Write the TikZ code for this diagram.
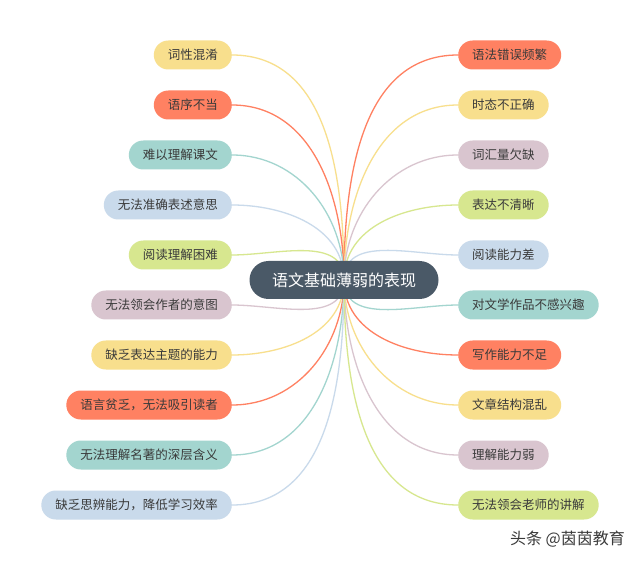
\documentclass[tikz,border=0pt]{standalone}
\usepackage{fontspec}
\setmainfont{Noto Sans CJK SC}
\definecolor{cyel}{HTML}{F8DF8D}
\definecolor{ccor}{HTML}{FF8162}
\definecolor{cteal}{HTML}{A3D5CF}
\definecolor{cblue}{HTML}{C9DAEB}
\definecolor{cgrn}{HTML}{D7E78F}
\definecolor{cmauv}{HTML}{D9C5CF}
\definecolor{cdark}{HTML}{4A5967}
\definecolor{ctext}{HTML}{3A3A3A}
\begin{document}
\begin{tikzpicture}[x=1pt,y=1pt,
  leaf/.style={fill=#1, rounded corners=14.5pt, minimum height=29pt, inner xsep=14pt, inner ysep=0pt, text=ctext, font=\fontsize{12.5}{14}\selectfont},
  lnk/.style={draw=#1, line width=1.3pt}]
\useasboundingbox[fill=white] (0,0) rectangle (640,-561);
\coordinate (C) at (344,-280);
% left nodes
\node[leaf=cyel, anchor=east] (L1) at (232,-55) {词性混淆};
\node[leaf=ccor, anchor=east] (L2) at (232,-105) {语序不当};
\node[leaf=cteal, anchor=east] (L3) at (232,-155) {难以理解课文};
\node[leaf=cblue, anchor=east] (L4) at (232,-205) {无法准确表述意思};
\node[leaf=cgrn, anchor=east] (L5) at (232,-255) {阅读理解困难};
\node[leaf=cmauv, anchor=east] (L6) at (232,-305) {无法领会作者的意图};
\node[leaf=cyel, anchor=east] (L7) at (232,-355) {缺乏表达主题的能力};
\node[leaf=ccor, anchor=east] (L8) at (232,-405) {语言贫乏，无法吸引读者};
\node[leaf=cteal, anchor=east] (L9) at (232,-455) {无法理解名著的深层含义};
\node[leaf=cblue, anchor=east] (L10) at (232,-505) {缺乏思辨能力，降低学习效率};
% right nodes
\node[leaf=ccor, anchor=west] (R1) at (458,-55) {语法错误频繁};
\node[leaf=cyel, anchor=west] (R2) at (458,-105) {时态不正确};
\node[leaf=cmauv, anchor=west] (R3) at (458,-155) {词汇量欠缺};
\node[leaf=cgrn, anchor=west] (R4) at (458,-205) {表达不清晰};
\node[leaf=cblue, anchor=west] (R5) at (458,-255) {阅读能力差};
\node[leaf=cteal, anchor=west] (R6) at (458,-305) {对文学作品不感兴趣};
\node[leaf=ccor, anchor=west] (R7) at (458,-355) {写作能力不足};
\node[leaf=cyel, anchor=west] (R8) at (458,-405) {文章结构混乱};
\node[leaf=cmauv, anchor=west] (R9) at (458,-455) {理解能力弱};
\node[leaf=cgrn, anchor=west] (R10) at (458,-505) {无法领会老师的讲解};
% connectors
\draw[lnk=cyel] (C) to[out=90,in=0] (L1.east);
\draw[lnk=ccor] (C) to[out=90,in=0] (L2.east);
\draw[lnk=cteal] (C) to[out=90,in=0] (L3.east);
\draw[lnk=cblue] (C) to[out=90,in=0] (L4.east);
\draw[lnk=cgrn] (C) to[out=90,in=0] (L5.east);
\draw[lnk=cmauv] (C) to[out=270,in=0] (L6.east);
\draw[lnk=cyel] (C) to[out=270,in=0] (L7.east);
\draw[lnk=ccor] (C) to[out=270,in=0] (L8.east);
\draw[lnk=cteal] (C) to[out=270,in=0] (L9.east);
\draw[lnk=cblue] (C) to[out=270,in=0] (L10.east);
\draw[lnk=ccor] (C) to[out=90,in=180] (R1.west);
\draw[lnk=cyel] (C) to[out=90,in=180] (R2.west);
\draw[lnk=cmauv] (C) to[out=90,in=180] (R3.west);
\draw[lnk=cgrn] (C) to[out=90,in=180] (R4.west);
\draw[lnk=cblue] (C) to[out=90,in=180] (R5.west);
\draw[lnk=cteal] (C) to[out=270,in=180] (R6.west);
\draw[lnk=ccor] (C) to[out=270,in=180] (R7.west);
\draw[lnk=cyel] (C) to[out=270,in=180] (R8.west);
\draw[lnk=cmauv] (C) to[out=270,in=180] (R9.west);
\draw[lnk=cgrn] (C) to[out=270,in=180] (R10.west);
\node[fill=cdark, rounded corners=19pt, minimum height=38pt, minimum width=189pt, inner sep=0pt, text=white, font=\fontsize{16}{18}\selectfont] (root) at (C) {语文基础薄弱的表现};
\node[anchor=east, text=ctext, font=\fontsize{16}{18}\selectfont, inner sep=0pt] (wm) at (625,-539) {头条 @茵茵教育};
\end{tikzpicture}
\end{document}
